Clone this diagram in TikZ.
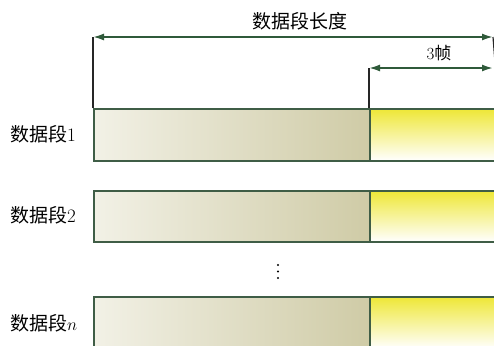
\documentclass[tikz,border=0pt]{standalone}
\usepackage{fontspec}
\newfontfamily\cjk{Noto Sans CJK SC}
\usetikzlibrary{arrows.meta}
\definecolor{dimgreen}{HTML}{2F5A3A}
\definecolor{barline}{HTML}{3F5D46}
\definecolor{khakiD}{HTML}{CFCBA6}
\definecolor{khakiL}{HTML}{F2F1E6}
\definecolor{yel}{HTML}{EEE736}
\tikzset{
  lbl/.style={font=\fontsize{19}{21}\selectfont\cjk, inner sep=0pt, anchor=west},
  databar/.style={draw=barline, line width=1.6pt, left color=khakiL, right color=khakiD, inner sep=0pt, anchor=north west},
  framebar/.style={draw=barline, line width=1.6pt, top color=yel, bottom color=white, inner sep=0pt, anchor=north west},
  dim/.style={draw=dimgreen, line width=1.8pt, {Latex[length=11pt,width=7pt]}-{Latex[length=11pt,width=7pt]}},
  tick/.style={draw=black!85, line width=1.2pt},
  dotmark/.style={circle, fill=black, inner sep=0pt, minimum size=2.4pt}
}
\begin{document}
\begin{tikzpicture}[x=1pt,y=-1pt]
\useasboundingbox (0,0) rectangle (494,345);
% bars
\node[databar, minimum width=276pt, minimum height=52pt] (d1) at (93,108) {};
\node[framebar, minimum width=128pt, minimum height=52pt] (f1) at (369,108) {};
\node[databar, minimum width=276pt, minimum height=51pt] (d2) at (93,190) {};
\node[framebar, minimum width=128pt, minimum height=51pt] (f2) at (369,190) {};
\node[databar, minimum width=276pt, minimum height=52pt] (dn) at (93,296) {};
\node[framebar, minimum width=128pt, minimum height=52pt] (fn) at (369,296) {};
% labels
\node[lbl] (l1) at (10,134) {数据段{\rmfamily 1}};
\node[lbl] (l2) at (10,215) {数据段{\rmfamily 2}};
\node[lbl] (ln) at (10,323) {数据段$n$};
\node[dotmark] (dot1) at (278,265) {};
\node[dotmark] (dot2) at (278,271.5) {};
\node[dotmark] (dot3) at (278,278) {};
% dimension lines
\coordinate (aL) at (93,37);
\coordinate (aR) at (493,37);
\coordinate (bL) at (369,68);
\coordinate (bR) at (493,68);
\draw[tick] (d1.north west) -- (aL);
\draw[tick] (f1.north west) -- (bL);
\draw[tick] (f1.north east) -- (aR);
\draw[dim] (aL) -- (aR);
\draw[dim] (bL) -- (bR);
\node[font=\fontsize{19}{21}\selectfont\cjk] (t1) at (300,21) {数据段长度};
\node[font=\fontsize{17}{19}\selectfont\cjk] (t2) at (439,53) {{\rmfamily 3}帧};
\end{tikzpicture}
\end{document}
